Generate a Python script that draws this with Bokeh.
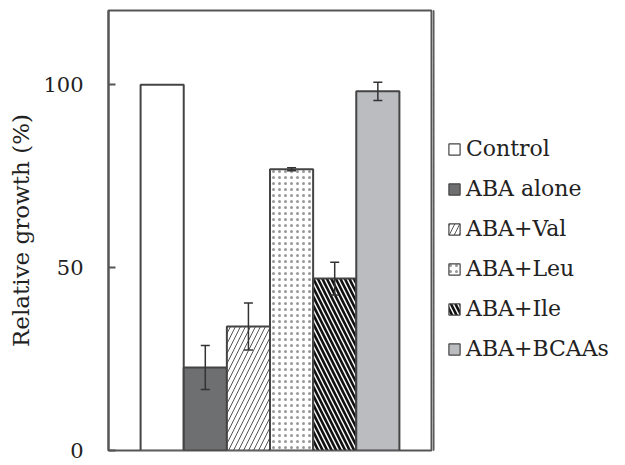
from bokeh.plotting import figure
from bokeh.layouts import row
from bokeh.models import (Legend, LegendItem, Whisker, ColumnDataSource,
                          FixedTicker, Range1d)
from bokeh.embed import file_html
from bokeh.resources import INLINE

categories = ["Control", "ABA alone", "ABA+Val", "ABA+Leu", "ABA+Ile", "ABA+BCAAs"]
values = [100.0, 22.7, 33.9, 76.9, 47.0, 98.2]
errors = [0.0, 6.0, 6.4, 0.4, 4.5, 2.5]
y_ticks = [0, 50, 100]

fills = ["#ffffff", "#6e6f71", "#ffffff", "#ffffff", "#ffffff", "#bbbcc0"]
hatches = [" ", " ", "right_diagonal_line", "dot", "left_diagonal_line", " "]
hatch_colors = ["#000000", "#000000", "#555555", "#999999", "#111111", "#000000"]
hatch_weights = [1, 1, 1.0, 1.1, 2.6, 1]
hatch_scales = [8, 8, 10, 6, 9, 8]

FONT = "DejaVu Serif"
H = 462

xpos = list(range(1, len(categories) + 1))

p = figure(width=433, height=H, output_backend="svg", toolbar_location=None,
           x_range=Range1d(0.5 - 0.744, len(categories) + 0.5 + 0.744),
           y_range=Range1d(0, 120.3),
           min_border_left=108, min_border_right=2, min_border_top=10,
           min_border_bottom=12, x_axis_location=None)
p.grid.visible = False
p.outline_line_color = "#555555"
p.outline_line_width = 2
p.background_fill_color = "white"
p.border_fill_color = "white"

ax = p.yaxis[0]
ax.ticker = FixedTicker(ticks=y_ticks)
ax.axis_line_color = "#555555"
ax.axis_line_width = 2
ax.major_tick_in = 7
ax.major_tick_out = 0
ax.major_tick_line_color = "#555555"
ax.major_tick_line_width = 2
ax.minor_tick_line_color = None
ax.major_label_standoff = 25
ax.major_label_text_font = FONT
ax.major_label_text_font_size = "21px"
ax.major_label_text_color = "#222222"
ax.axis_label = "Relative growth (%)"
ax.axis_label_text_font = FONT
ax.axis_label_text_font_size = "23px"
ax.axis_label_text_font_style = "normal"
ax.axis_label_text_color = "#222222"
ax.axis_label_standoff = 6

# legend panel: a separate figure whose view never shows the bars; it only
# hosts the legend, whose swatches come from twin renderers of the same data
lg = figure(width=176, height=H, output_backend="svg", toolbar_location=None,
            x_range=Range1d(100, 101), y_range=Range1d(0, 1),
            min_border=0, x_axis_location=None, y_axis_location=None)
lg.grid.visible = False
lg.outline_line_color = None
lg.background_fill_color = "white"
lg.border_fill_color = "white"

items = []
for i, cat in enumerate(categories):
    style = dict(fill_color=fills[i], line_color="#444444", line_width=2,
                 hatch_pattern=hatches[i], hatch_color=hatch_colors[i],
                 hatch_weight=hatch_weights[i], hatch_scale=hatch_scales[i])
    src = ColumnDataSource(dict(x=[xpos[i]], top=[values[i]]))
    p.vbar(x="x", top="top", width=1.0, source=src, **style)
    lr = lg.vbar(x="x", top="top", width=1.0, source=src,
                 **{**style, "line_width": 1.2})
    items.append(LegendItem(label=cat, renderers=[lr]))

ex = [xpos[i] for i in range(len(categories)) if errors[i] > 0]
eu = [values[i] + errors[i] for i in range(len(categories)) if errors[i] > 0]
el = [values[i] - errors[i] for i in range(len(categories)) if errors[i] > 0]
esrc = ColumnDataSource(dict(x=ex, upper=eu, lower=el))
w = Whisker(base="x", upper="upper", lower="lower", source=esrc,
            line_color="#333333", line_width=1.5, level="overlay")
w.upper_head.size = 9
w.lower_head.size = 9
w.upper_head.line_color = "#333333"
w.lower_head.line_color = "#333333"
w.upper_head.line_width = 1.5
w.lower_head.line_width = 1.5
p.add_layout(w)

legend = Legend(items=items, location=(14, 89), orientation="vertical",
                glyph_width=14, glyph_height=14, label_standoff=5,
                label_text_font=FONT, label_text_font_size="22px",
                label_text_color="#222222", label_height=20, spacing=15,
                padding=0, margin=0, border_line_color=None,
                background_fill_alpha=0)
lg.add_layout(legend, "center")

layout = row(p, lg, spacing=0)
open("out.html", "w").write(file_html(layout, INLINE))
